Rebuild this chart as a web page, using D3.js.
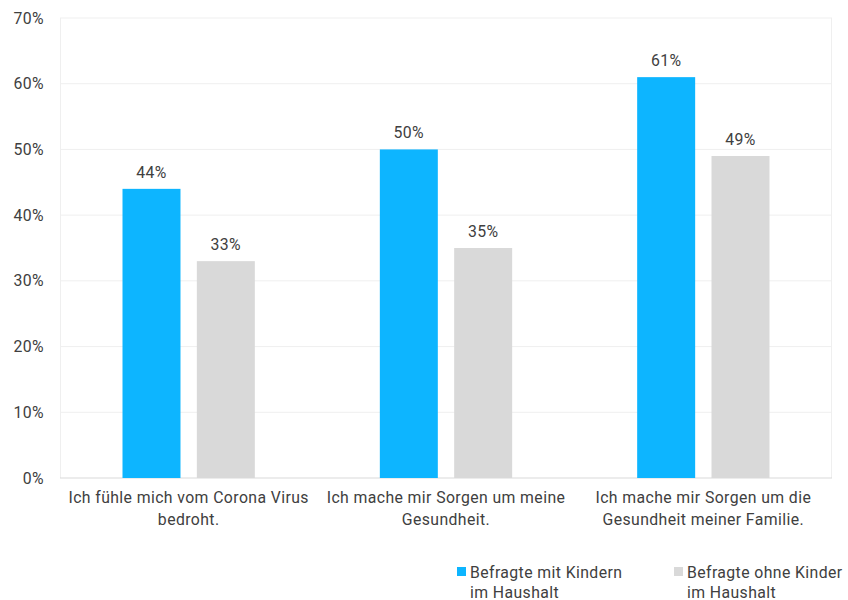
<!DOCTYPE html>
<html>
<head>
<meta charset="utf-8">
<script src="https://cdn.jsdelivr.net/npm/d3@7"></script>
<style>
  body { margin: 0; background: #fff; }
  text { font-family: Roboto, "Noto Sans", sans-serif; fill: #404040; letter-spacing: 0.4px; }
</style>
</head>
<body>
<svg id="chart" width="848" height="600"></svg>
<script>
const categories = [
  ['Ich fühle mich vom Corona Virus', 'bedroht.'],
  ['Ich mache mir Sorgen um meine', 'Gesundheit.'],
  ['Ich mache mir Sorgen um die', 'Gesundheit meiner Familie.']
];
const seriesNames = [
  ['Befragte mit Kindern', 'im Haushalt'],
  ['Befragte ohne Kinder', 'im Haushalt']
];
const withKids = [44, 50, 61];
const withoutKids = [33, 35, 49];
const yTicks = [0, 10, 20, 30, 40, 50, 60, 70];
const colors = ['#0DB5FF', '#D9D9D9'];

const svg = d3.select('#chart');
const margin = { top: 18, right: 16, bottom: 122, left: 60 };
const width = 848 - margin.left - margin.right;
const height = 600 - margin.top - margin.bottom;
const fs = 15.8;

const g = svg.append('g').attr('transform', `translate(${margin.left},${margin.top})`);

const x0 = d3.scaleBand()
  .domain(d3.range(categories.length))
  .range([0, width]);

const x1 = d3.scaleBand()
  .domain([0, 1])
  .range([62.5, x0.bandwidth() - 62.5])
  .paddingInner(0.22);

const y = d3.scaleLinear().domain([0, 70]).range([height, 0]);

// gridlines
g.selectAll('.grid')
  .data(yTicks.slice(1))
  .enter().append('line')
  .attr('x1', 0).attr('x2', width)
  .attr('y1', d => y(d)).attr('y2', d => y(d))
  .attr('stroke', '#EFEFEF').attr('stroke-width', 1);

// plot borders
g.append('line').attr('x1', 0.5).attr('x2', 0.5).attr('y1', 0).attr('y2', height)
  .attr('stroke', '#EFEFEF');
g.append('line').attr('x1', width - 0.5).attr('x2', width - 0.5).attr('y1', 0).attr('y2', height)
  .attr('stroke', '#EFEFEF');
g.append('line').attr('x1', 0).attr('x2', width).attr('y1', height).attr('y2', height)
  .attr('stroke', '#D9D9D9');

// y labels
g.selectAll('.ylab')
  .data(yTicks)
  .enter().append('text')
  .attr('x', -16)
  .attr('y', d => y(d))
  .attr('dy', '0.35em')
  .attr('text-anchor', 'end')
  .attr('font-size', fs)
  .text(d => d + '%');

const rows = categories.map((c, i) => [withKids[i], withoutKids[i]]);

const groups = g.selectAll('.grp')
  .data(rows)
  .enter().append('g')
  .attr('transform', (d, i) => `translate(${x0(i)},0)`);

groups.selectAll('rect')
  .data(d => d)
  .enter().append('rect')
  .attr('x', (d, j) => x1(j))
  .attr('width', x1.bandwidth())
  .attr('y', d => y(d))
  .attr('height', d => height - y(d))
  .attr('fill', (d, j) => colors[j]);

groups.selectAll('.val')
  .data(d => d)
  .enter().append('text')
  .attr('x', (d, j) => x1(j) + x1.bandwidth() / 2)
  .attr('y', d => y(d) - 11)
  .attr('text-anchor', 'middle')
  .attr('font-size', fs)
  .text(d => d + '%');

// category labels
categories.forEach((lines, i) => {
  const cx = x0(i) + x0.bandwidth() / 2;
  const t = g.append('text')
    .attr('text-anchor', 'middle')
    .attr('font-size', fs)
    .attr('x', cx)
    .attr('y', height + 24.5);
  lines.forEach((l, k) => {
    t.append('tspan')
      .attr('x', cx)
      .attr('dy', k === 0 ? 0 : 22)
      .text(l);
  });
});

// legend
const legendX = [457, 674];
seriesNames.forEach((lines, j) => {
  const lg = svg.append('g').attr('transform', `translate(${legendX[j]},567)`);
  lg.append('rect').attr('width', 9).attr('height', 9).attr('fill', colors[j]);
  const t = lg.append('text').attr('x', 13).attr('y', 10.5).attr('font-size', fs);
  lines.forEach((l, k) => {
    t.append('tspan').attr('x', 13).attr('dy', k === 0 ? 0 : 20).text(l);
  });
});
</script>
</body>
</html>
